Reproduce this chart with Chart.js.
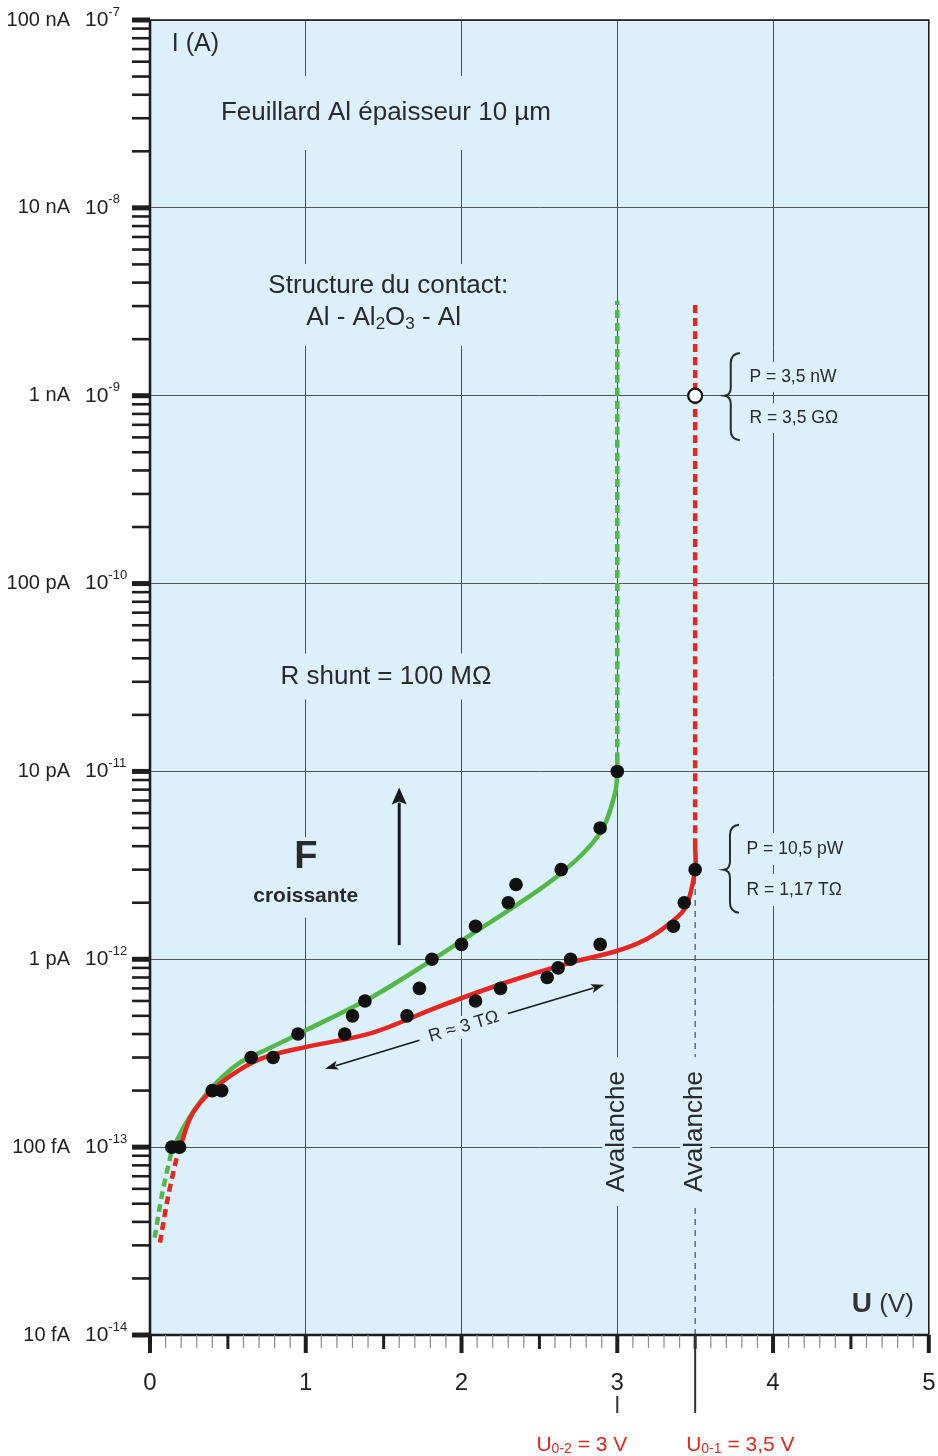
<!DOCTYPE html>
<html>
<head>
<meta charset="utf-8">
<script src="https://cdn.jsdelivr.net/npm/chart.js@4.4.1/dist/chart.umd.min.js"></script>
<style>
  html, body { margin: 0; padding: 0; background: #fff; }
  canvas { display: block; }
</style>
</head>
<body>
<canvas id="iv-chart" width="938" height="1456"></canvas>
<script>
// axis ticks
var uTicks = [0, 1, 2, 3, 4, 5];
var iDecades = [1e-14, 1e-13, 1e-12, 1e-11, 1e-10, 1e-9, 1e-8, 1e-7];
var iUnitLabels = ["10 fA", "100 fA", "1 pA", "10 pA", "100 pA", "1 nA", "10 nA", "100 nA"];
var iExpLabels = ["-14", "-13", "-12", "-11", "-10", "-9", "-8", "-7"];

// green curve (F croissante) - U in V, I in A
var greenLowU = [0.03, 0.077, 0.141];
var greenLowI = [3.3e-14, 5.6e-14, 9.7e-14];
var greenU = [0.141, 0.256, 0.396, 0.575, 0.786, 1.004, 1.426, 1.81, 2.11, 2.28, 2.64, 2.89, 2.986, 3.0, 3.0];
var greenI = [9.7e-14, 1.45e-13, 2.07e-13, 2.81e-13, 3.42e-13, 4.2e-13, 6.3e-13, 9.9e-13, 1.44e-12, 1.77e-12, 2.88e-12, 4.7e-12, 7.7e-12, 1e-11, 1.15e-11];
var greenAvalU = [3.0, 3.0];
var greenAvalI = [1.15e-11, 3.2e-9];

// red curve
var redLowU = [0.064, 0.115, 0.173, 0.192];
var redLowI = [3.1e-14, 5.4e-14, 8.9e-14, 1.0e-13];
var redU = [0.192, 0.275, 0.403, 0.575, 0.748, 1.004, 1.426, 1.854, 2.28, 2.70, 2.986, 3.18, 3.34, 3.44, 3.5, 3.5];
var redI = [1.0e-13, 1.52e-13, 2.02e-13, 2.58e-13, 3.03e-13, 3.42e-13, 4.06e-13, 5.6e-13, 7.5e-13, 9.6e-13, 1.1e-12, 1.27e-12, 1.56e-12, 1.9e-12, 3.0e-12, 4.0e-12];
var redAvalU = [3.5, 3.5];
var redAvalI = [4.0e-12, 3.2e-9];

// measured points
var dotU = [0.14, 0.19, 0.40, 0.46, 0.65, 0.79, 0.95, 1.25, 1.30, 1.38, 1.65, 1.73, 1.81, 2.0, 2.09, 2.09, 2.25, 2.30, 2.35, 2.55, 2.62, 2.70, 2.64, 2.89, 2.89, 3.0, 3.36, 3.43, 3.5];
var dotI = [1e-13, 1e-13, 2e-13, 2e-13, 3e-13, 3e-13, 4e-13, 4e-13, 5e-13, 6e-13, 5e-13, 7e-13, 1e-12, 1.2e-12, 6e-13, 1.5e-12, 7e-13, 2e-12, 2.5e-12, 8e-13, 9e-13, 1e-12, 3e-12, 1.2e-12, 5e-12, 1e-11, 1.5e-12, 2e-12, 3e-12];

// working point at 1 nA
var workU = [3.5];
var workI = [1e-9];

// U0-1 guide line
var guideU = [3.5, 3.5];
var guideI = [1e-14, 3e-12];

var FONT = "'Liberation Sans', Arial, Helvetica, sans-serif";
var INK = '#2a2a2a';
var PLOT_BG = '#dbf0fb';
var RED = '#e8251f';
var GREEN = '#53b848';

function fnt(size, weight) { return (weight || 'normal') + ' ' + size + 'px ' + FONT; }

function runsWidth(ctx, runs) {
  var w = 0;
  runs.forEach(function(r) { ctx.font = fnt(r[1], r[2]); w += ctx.measureText(r[0]).width; });
  return w;
}

// text made of runs [text, size, weight, dy]; pass 'gap' paints the box that cuts the grid
function putText(ctx, runs, x, y, o, pass) {
  o = o || {};
  ctx.save();
  ctx.translate(x, y);
  if (o.angle) ctx.rotate(o.angle);
  var w = runsWidth(ctx, runs);
  var x0 = o.align === 'center' ? -w / 2 : (o.align === 'right' ? -w : 0);
  if (pass === 'gap') {
    if (o.gapH) {
      var gx = o.gapX || 0;
      ctx.fillStyle = PLOT_BG;
      ctx.fillRect(x0 - gx, -o.gapH, w + 2 * gx, 2 * o.gapH);
    }
    ctx.restore();
    return;
  }
  ctx.fillStyle = o.color || INK;
  ctx.textBaseline = 'middle';
  ctx.textAlign = 'left';
  runs.forEach(function(r) {
    ctx.font = fnt(r[1], r[2]);
    ctx.fillText(r[0], x0, r[3] || 0);
    x0 += ctx.measureText(r[0]).width;
  });
  ctx.restore();
}

function arrow(ctx, x1, y1, x2, y2, lw, hl, hw) {
  var a = Math.atan2(y2 - y1, x2 - x1);
  var ca = Math.cos(a), sa = Math.sin(a);
  var bx = x2 - hl * ca, by = y2 - hl * sa;
  ctx.save();
  ctx.strokeStyle = '#1a1a1a';
  ctx.fillStyle = '#1a1a1a';
  ctx.lineWidth = lw;
  ctx.beginPath();
  ctx.moveTo(x1, y1);
  ctx.lineTo(bx + 2 * ca, by + 2 * sa);
  ctx.stroke();
  ctx.beginPath();
  ctx.moveTo(x2, y2);
  ctx.lineTo(bx + hw / 2 * sa, by - hw / 2 * ca);
  ctx.lineTo(bx + 3 * ca, by + 3 * sa);
  ctx.lineTo(bx - hw / 2 * sa, by + hw / 2 * ca);
  ctx.closePath();
  ctx.fill();
  ctx.restore();
}

function brace(ctx, xt, yt, ym, yb) {
  var xv = xt + 6, xe = xt + 15;
  ctx.save();
  ctx.beginPath();
  ctx.moveTo(xe, yt);
  ctx.quadraticCurveTo(xv, yt + 1, xv, yt + 10);
  ctx.lineTo(xv, ym - 8);
  ctx.quadraticCurveTo(xv, ym - 1, xt, ym);
  ctx.quadraticCurveTo(xv, ym + 1, xv, ym + 8);
  ctx.lineTo(xv, yb - 10);
  ctx.quadraticCurveTo(xv, yb - 1, xe, yb);
  ctx.lineWidth = 2;
  ctx.strokeStyle = INK;
  ctx.stroke();
  ctx.restore();
}

var decor = {
  id: 'decor',
  beforeDraw: function(chart) {
    var c = chart.ctx, a = chart.chartArea;
    c.save();
    c.fillStyle = '#fff';
    c.fillRect(0, 0, chart.width, chart.height);
    c.fillStyle = PLOT_BG;
    c.fillRect(a.left, a.top, a.right - a.left, a.bottom - a.top);
    c.restore();
  },
  afterDatasetsDraw: function(chart) {
    var c = chart.ctx, a = chart.chartArea;
    var xs = chart.scales.x, ys = chart.scales.y;
    function X(u) { return xs.getPixelForValue(u); }
    function Y(i) { return ys.getPixelForValue(i); }

    // R ~ 3 TOhm double arrow (drawn first, the label box cuts it)
    var cx = X(2.014), cy = Y(4.37e-13);
    var lx = X(1.125), ly = Y(2.61e-13), rx = X(2.915), ry = Y(7.31e-13);
    arrow(c, cx, cy, lx, ly, 1.6, 13, 9);
    arrow(c, cx, cy, rx, ry, 1.6, 13, 9);

    var notes = [
      [[['I (A)', 25]], X(0.14), Y(7.4e-8), {}],
      [[['Feuillard Al épaisseur 10 µm', 26]], X(1.515), Y(3.2e-8), { align: 'center', gapH: 37 }],
      [[['Structure du contact:', 26]], X(1.53), Y(3.84e-9), { align: 'center', gapH: 22 }],
      [[['Al - Al', 26], ['2', 17, '', 7], ['O', 26], ['3', 17, '', 7], [' - Al', 26]], X(1.5), Y(2.6e-9), { align: 'center', gapH: 28, gapX: 6 }],
      [[['R shunt = 100 MΩ', 26]], X(1.515), Y(3.2e-11), { align: 'center', gapH: 23 }],
      [[['F', 38, 'bold']], X(1.0), Y(3.5e-12), { align: 'center', gapH: 20 }],
      [[['croissante', 21, 'bold']], X(1.0), Y(2.18e-12), { align: 'center', gapH: 22, gapX: 4 }],
      [[['Avalanche', 26]], X(3.0), Y(1.21e-13), { align: 'center', angle: -Math.PI / 2, gapH: 15, gapX: 14 }],
      [[['Avalanche', 26]], X(3.5), Y(1.21e-13), { align: 'center', angle: -Math.PI / 2, gapH: 15, gapX: 14 }],
      [[['P = 3,5 nW', 17.5]], X(3.849), Y(1.26e-9), { gapH: 15, gapX: 3 }],
      [[['R = 3,5 GΩ', 17.5]], X(3.849), Y(7.6e-10), { gapH: 15, gapX: 3 }],
      [[['P = 10,5 pW', 17.5]], X(3.83), Y(3.87e-12), { gapH: 16, gapX: 3 }],
      [[['R = 1,17 TΩ', 17.5]], X(3.83), Y(2.34e-12), { gapH: 16, gapX: 3 }],
      [[['R ≈ 3 TΩ', 18]], cx, cy, { align: 'center', angle: Math.atan2(ry - ly, rx - lx), gapH: 11, gapX: 10 }],
      [[['U', 28, 'bold'], [' (V)', 26]], X(4.904), Y(1.45e-14), { align: 'right', color: '#333' }]
    ];
    notes.forEach(function(n) { putText(c, n[0], n[1], n[2], n[3], 'gap'); });
    notes.forEach(function(n) { putText(c, n[0], n[1], n[2], n[3], 'text'); });

    brace(c, X(3.69), Y(1.69e-9), Y(1e-9), Y(5.8e-10));
    brace(c, X(3.685), Y(5.2e-12), Y(3e-12), Y(1.77e-12));

    // F arrow
    arrow(c, X(1.6), Y(1.19e-12), X(1.6), Y(8.2e-12), 3, 17, 15);

    // frame
    c.save();
    c.strokeStyle = '#1e1e1e';
    c.lineWidth = 1.6;
    c.strokeRect(a.left, a.top, a.right - a.left, a.bottom - a.top);
    c.lineWidth = 2.6;
    c.beginPath();
    c.moveTo(a.left, a.top);
    c.lineTo(a.left, a.bottom);
    c.lineTo(a.right, a.bottom);
    c.stroke();

    // x ticks below the axis
    for (var k = 0; k <= 50; k++) {
      var xp = X(k / 10);
      c.beginPath();
      if (k % 10 === 0) { c.lineWidth = 4; c.strokeStyle = '#1e1e1e'; c.moveTo(xp, a.bottom); c.lineTo(xp, a.bottom + 18); }
      else if (k % 5 === 0) { c.lineWidth = 3; c.strokeStyle = '#1e1e1e'; c.moveTo(xp, a.bottom); c.lineTo(xp, a.bottom + 14); }
      else { c.lineWidth = 1.2; c.strokeStyle = '#8a8a8a'; c.moveTo(xp, a.bottom); c.lineTo(xp, a.bottom + 13); }
      c.stroke();
    }

    // y ticks left of the axis
    c.strokeStyle = '#1e1e1e';
    for (var d = 0; d < iDecades.length; d++) {
      for (var m = 1; m <= 9; m++) {
        if (d === iDecades.length - 1 && m > 1) break;
        var yp = Y(iDecades[d] * m);
        c.lineWidth = m === 1 ? 5 : 2.6;
        c.beginPath();
        c.moveTo(a.left - 18, yp);
        c.lineTo(a.left, yp);
        c.stroke();
      }
    }

    // y labels
    iDecades.forEach(function(v, k) {
      var yp = Y(v);
      putText(c, [[iUnitLabels[k], 20]], a.left - 80, yp, { align: 'right', color: '#222' });
      putText(c, [['10', 21], [iExpLabels[k], 13, '', -8]], a.left - 65, yp, { color: '#222' });
    });

    // U0 markers below the axis
    c.lineWidth = 2;
    c.strokeStyle = '#333';
    c.beginPath();
    c.moveTo(X(3.5), a.bottom);
    c.lineTo(X(3.5), a.bottom + 78);
    c.moveTo(X(3.0), a.bottom + 61);
    c.lineTo(X(3.0), a.bottom + 78);
    c.stroke();
    c.restore();

    putText(c, [['U', 21], ['0-2', 14, '', 4], [' = 3 V', 21]], X(3.0) + 10, a.bottom + 110, { align: 'right', color: RED });
    putText(c, [['U', 21], ['0-1', 14, '', 4], [' = 3,5 V', 21]], X(3.5) - 9, a.bottom + 110, { color: RED });
  }
};

function pts(us, is) {
  return us.map(function(u, k) { return { x: u, y: is[k] }; });
}

function curve(us, is, color, dashed, order) {
  return {
    data: pts(us, is),
    showLine: true,
    borderColor: color,
    borderWidth: 4.5,
    borderDash: dashed ? [8, 5] : [],
    borderCapStyle: dashed ? 'butt' : 'round',
    pointRadius: 0,
    tension: dashed ? 0.3 : 0.35,
    fill: false,
    order: order
  };
}

var ctx = document.getElementById('iv-chart').getContext('2d');
window.ivChart = new Chart(ctx, {
  type: 'scatter',
  data: {
    datasets: [
      { data: pts(workU, workI), pointRadius: 7, backgroundColor: '#fff', borderColor: '#111', borderWidth: 2.2, order: 0 },
      { data: pts(dotU, dotI), pointRadius: 6.8, backgroundColor: '#111', borderWidth: 0, order: 1 },
      curve(greenU, greenI, GREEN, false, 3),
      curve(greenLowU, greenLowI, GREEN, true, 3),
      curve(greenAvalU, greenAvalI, GREEN, true, 3),
      curve(redU, redI, RED, false, 2),
      curve(redLowU, redLowI, RED, true, 2),
      curve(redAvalU, redAvalI, RED, true, 2),
      { data: pts(guideU, guideI), showLine: true, borderColor: '#555', borderWidth: 1.3, borderDash: [6, 5], pointRadius: 0, order: 9 }
    ]
  },
  options: {
    responsive: false,
    animation: false,
    layout: { padding: { top: 20, right: 6, left: 0, bottom: 0 } },
    plugins: { legend: { display: false }, tooltip: { enabled: false } },
    scales: {
      x: {
        type: 'linear',
        min: 0,
        max: 5,
        afterBuildTicks: function(s) { s.ticks = uTicks.map(function(v) { return { value: v }; }); },
        afterFit: function(s) { s.height = 121; s.paddingRight = 0; },
        grid: { color: '#4d4d4d', lineWidth: 1, drawTicks: true, tickLength: 31, tickColor: 'rgba(0,0,0,0)' },
        border: { display: false },
        ticks: { padding: 3, color: '#222', font: { family: FONT, size: 24 } }
      },
      y: {
        type: 'logarithmic',
        min: 1e-14,
        max: 1e-7,
        afterBuildTicks: function(s) { s.ticks = iDecades.map(function(v) { return { value: v }; }); },
        afterFit: function(s) { s.width = 150; },
        grid: { color: '#555', lineWidth: 1, drawTicks: false },
        border: { display: false },
        ticks: { display: false }
      }
    }
  },
  plugins: [decor]
});
</script>
</body>
</html>
